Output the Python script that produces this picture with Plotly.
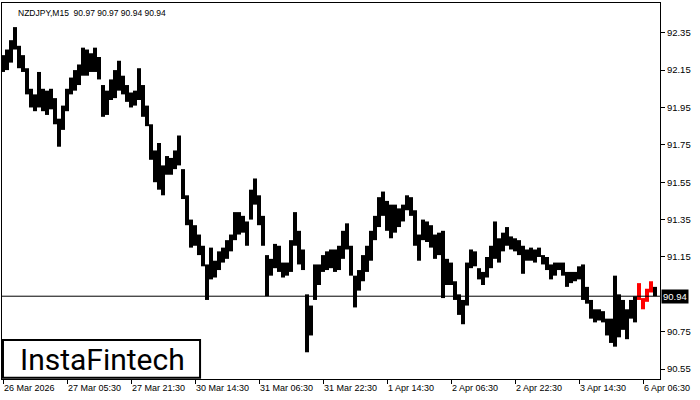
import plotly.graph_objects as go

symbol_title = "NZDJPY,M15  90.97 90.97 90.94 90.94"
tick_labels = ["26 Mar 2026", "27 Mar 05:30", "27 Mar 21:30", "30 Mar 14:30", "31 Mar 06:30",
               "31 Mar 22:30", "1 Apr 14:30", "2 Apr 06:30", "2 Apr 22:30", "3 Apr 14:30", "6 Apr 06:30"]
tick_bar_idx = [0, 16, 32, 48, 64, 80, 96, 112, 128, 144, 160]
price_ticks = [92.35, 92.15, 91.95, 91.75, 91.55, 91.35, 91.15, 90.75, 90.55]
current_price = 90.94

high = [92.23, 92.26, 92.31, 92.38, 92.28, 92.23, 92.16, 92.05, 92.02, 92.14,
        92.05, 92.04, 92.05, 92.00, 91.89, 91.96, 92.05, 92.11, 92.15, 92.18,
        92.27, 92.26, 92.24, 92.27, 92.22, 92.07, 92.04, 92.10, 92.15, 92.20,
        92.12, 92.07, 92.03, 92.04, 92.16, 92.07, 91.96, 91.86, 91.72, 91.76,
        91.64, 91.69, 91.68, 91.72, 91.80, 91.62, 91.48, 91.35, 91.32, 91.27,
        91.21, 91.11, 91.20, 91.13, 91.18, 91.20, 91.24, 91.27, 91.39, 91.39,
        91.37, 91.34, 91.51, 91.57, 91.48, 91.37, 91.16, 91.14, 91.22, 91.21,
        91.12, 91.12, 91.24, 91.39, 91.29, 91.19, 90.95, 90.89, 91.11, 91.11,
        91.16, 91.18, 91.19, 91.19, 91.21, 91.29, 91.33, 91.21, 91.05, 91.08,
        91.16, 91.21, 91.29, 91.37, 91.47, 91.50, 91.45, 91.43, 91.43, 91.41,
        91.43, 91.48, 91.47, 91.40, 91.27, 91.35, 91.34, 91.32, 91.27, 91.28,
        91.29, 91.14, 91.12, 91.02, 90.95, 90.92, 91.12, 91.19, 91.18, 91.09,
        91.07, 91.15, 91.21, 91.34, 91.25, 91.28, 91.31, 91.26, 91.25, 91.24,
        91.21, 91.19, 91.20, 91.19, 91.20, 91.16, 91.15, 91.11, 91.12, 91.12,
        91.12, 91.07, 91.07, 91.07, 91.10, 91.11, 90.99, 90.92, 90.87, 90.87,
        90.86, 90.82, 90.82, 91.05, 90.95, 90.92, 90.87, 90.92, 90.94, 91.01,
        90.93, 90.98, 91.02, 90.99]

low = [92.14, 92.15, 92.19, 92.26, 92.16, 92.14, 92.02, 91.95, 91.93, 91.95,
       91.93, 91.91, 91.94, 91.86, 91.74, 91.83, 91.93, 92.02, 92.04, 92.07,
       92.12, 92.12, 92.14, 92.14, 92.10, 91.90, 91.91, 91.99, 92.00, 92.04,
       92.02, 91.98, 91.95, 91.96, 91.99, 91.90, 91.85, 91.67, 91.55, 91.51,
       91.48, 91.59, 91.59, 91.62, 91.64, 91.46, 91.32, 91.20, 91.21, 91.16,
       91.10, 90.92, 91.03, 91.04, 91.08, 91.12, 91.14, 91.18, 91.24, 91.27,
       91.28, 91.21, 91.35, 91.43, 91.32, 91.21, 90.94, 91.05, 91.09, 91.07,
       91.04, 91.05, 91.07, 91.21, 91.11, 91.08, 90.64, 90.73, 90.92, 91.00,
       91.07, 91.08, 91.09, 91.07, 91.08, 91.14, 91.19, 91.05, 90.88, 90.97,
       91.02, 91.07, 91.13, 91.24, 91.31, 91.37, 91.29, 91.25, 91.28, 91.31,
       91.34, 91.40, 91.37, 91.21, 91.13, 91.24, 91.23, 91.20, 91.14, 91.16,
       90.93, 91.00, 91.00, 90.92, 90.84, 90.79, 90.89, 91.09, 91.10, 91.03,
       91.00, 91.04, 91.09, 91.14, 91.12, 91.18, 91.21, 91.19, 91.18, 91.16,
       91.06, 91.13, 91.13, 91.12, 91.15, 91.11, 91.08, 91.03, 91.05, 91.08,
       91.05, 90.99, 91.01, 91.02, 91.03, 90.92, 90.90, 90.82, 90.80, 90.81,
       90.80, 90.73, 90.69, 90.67, 90.72, 90.76, 90.71, 90.82, 90.80, 90.92,
       90.87, 90.91, 90.96, 90.94]

red_bars = [159, 160, 161, 162]

n = len(high)
xs = list(range(n))
black_idx = [i for i in xs if i not in red_bars]

fig = go.Figure()
for idx, col in ((black_idx, "black"), (red_bars, "#ff0000")):
    fig.add_trace(go.Bar(
        x=[xs[i] for i in idx],
        base=[low[i] for i in idx],
        y=[high[i] - low[i] for i in idx],
        width=1.0, marker=dict(color=col, line=dict(width=0)),
        showlegend=False, hoverinfo="skip"))

font_axis = dict(family="Liberation Sans", size=9.5, color="black")

fig.update_layout(
    width=700, height=400,
    margin=dict(l=2, r=40, t=3, b=21),
    paper_bgcolor="white", plot_bgcolor="white",
    showlegend=False, barmode="overlay",
    xaxis=dict(range=[-0.25, 164.25], automargin=False, tickangle=0,
               showline=True, linecolor="black", linewidth=1, mirror=True,
               ticks="outside", ticklen=4, tickcolor="black",
               tickvals=tick_bar_idx, ticktext=tick_labels,
               ticklabelposition="outside right",
               tickfont=dict(family="Liberation Sans", size=9, color="black"),
               showgrid=False, zeroline=False, fixedrange=True),
    yaxis=dict(range=[90.497, 92.509], side="right", automargin=False,
               showline=True, linecolor="black", linewidth=1, mirror=True,
               ticks="outside", ticklen=4, tickcolor="black",
               tickvals=price_ticks, ticktext=[f"{v:.2f}" for v in price_ticks],
               tickfont=font_axis, showgrid=False, zeroline=False, fixedrange=True),
)

fig.add_shape(type="line", xref="paper", yref="y", x0=0, x1=1,
              y0=current_price, y1=current_price, line=dict(color="black", width=1))

fig.add_annotation(xref="paper", yref="y", x=1, y=current_price, xanchor="left", yanchor="middle",
                   xshift=1, text=f"{current_price:.2f}", showarrow=False,
                   bgcolor="black", font=dict(family="Liberation Sans", size=9.5, color="white"),
                   borderpad=1)

fig.add_annotation(xref="paper", yref="paper", x=0, y=1, xanchor="left", yanchor="top",
                   xshift=14, yshift=-3, text=symbol_title, showarrow=False,
                   font=dict(family="Liberation Sans", size=8.5, color="black"))

fig.add_shape(type="rect", xref="paper", yref="paper", x0=0.0015, x1=0.301, y0=0.003, y1=0.104,
              line=dict(color="black", width=2), fillcolor="white", layer="above")
fig.add_annotation(xref="paper", yref="paper", x=0.153, y=0.053, xanchor="center", yanchor="middle",
                   text="InstaFintech", showarrow=False,
                   font=dict(family="Roboto", size=30, color="black"))

fig.write_html("out.html", config={"displayModeBar": False},
               post_script="document.body.style.margin='0px';")
